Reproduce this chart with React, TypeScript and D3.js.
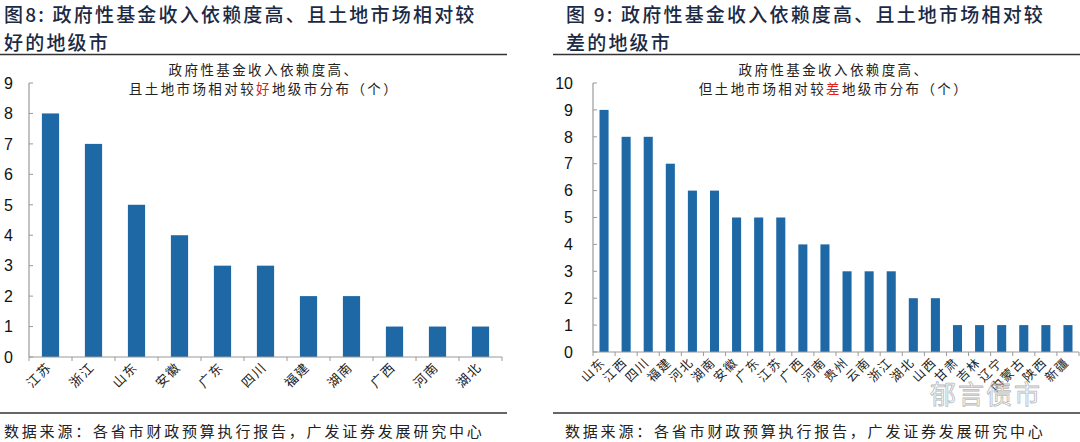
import React from 'react';
import * as d3 from 'd3';

// left panel: good land market cities
const goodProvinces = ['江苏', '浙江', '山东', '安徽', '广东', '四川', '福建', '湖南', '广西', '河南', '湖北'];
const goodCounts = [8, 7, 5, 4, 3, 3, 2, 2, 1, 1, 1];
const goodTicks = [0, 1, 2, 3, 4, 5, 6, 7, 8, 9];

// right panel: weak land market cities
const badProvinces = ['山东', '江西', '四川', '福建', '河北', '湖南', '安徽', '广东', '江苏', '广西', '河南',
  '贵州', '云南', '浙江', '湖北', '山西', '甘肃', '吉林', '辽宁', '内蒙古', '陕西', '新疆'];
const badCounts = [9, 8, 8, 7, 6, 6, 5, 5, 5, 4, 4, 3, 3, 3, 2, 2, 1, 1, 1, 1, 1, 1];
const badTicks = [0, 1, 2, 3, 4, 5, 6, 7, 8, 9, 10];

const BAR = '#1d68a5';
const AXIS = '#9a9a9a';
const INK = '#1b2a44';
const CJK = '"Noto Sans CJK SC", "Noto Sans", sans-serif';
const NUM = '"Liberation Sans", Arial, sans-serif';

type PanelProps = {
  x0: number; x1: number; y0: number; y1: number;
  cats: string[]; vals: number[]; ticks: number[];
  pad: number; labelGap: number; catFont: number;
};

function Panel({ x0, x1, y0, y1, cats, vals, ticks, pad, labelGap, catFont }: PanelProps) {
  const x = d3.scaleBand().domain(cats).range([x0, x1]).paddingInner(pad).paddingOuter(pad / 2);
  const y = d3.scaleLinear().domain([0, ticks[ticks.length - 1]]).range([y0, y1]);
  const step = x.step();
  const edges = d3.range(cats.length + 1).map(i => x0 + i * step);

  return (
    <g>
      {vals.map((v, i) => (
        <rect key={i} x={x(cats[i])} y={y(v)} width={x.bandwidth()} height={y0 - y(v)} fill={BAR} />
      ))}
      {/* y axis */}
      <line x1={x0} x2={x0} y1={y1} y2={y0} stroke={AXIS} strokeWidth={1.2} />
      {ticks.map(t => (
        <g key={t}>
          <line x1={x0} x2={x0 + 4} y1={y(t)} y2={y(t)} stroke={AXIS} />
          <text x={x0 - labelGap} y={y(t)} dy="0.36em" textAnchor="end"
            fontFamily={NUM} fontSize={16} fill="#111">{t}</text>
        </g>
      ))}
      {/* x axis */}
      <line x1={x0} x2={x1} y1={y0} y2={y0} stroke={AXIS} strokeWidth={1.2} />
      {edges.map((e, i) => (
        <line key={i} x1={e} x2={e} y1={y0} y2={y0 + 4} stroke={AXIS} />
      ))}
      {cats.map(c => (
        <text key={c} transform={`translate(${x(c)! + x.bandwidth() / 2 + 2},${y0 + 11}) rotate(-45)`}
          textAnchor="end" fontFamily={CJK} fontSize={catFont} letterSpacing={1.5} fill="#222">{c}</text>
      ))}
    </g>
  );
}

// two-line figure title, wrapped inside one text element
function Heading({ x, line1, line2 }: { x: number; line1: string; line2: string }) {
  return (
    <text fontFamily={CJK} fill={INK} fontSize={19} letterSpacing={2.2} fontWeight={500}>
      <tspan x={x} y={22}>{line1}</tspan>
      <tspan x={x} y={50}>{line2}</tspan>
    </text>
  );
}

function Inner({ cx, word, lead }: { cx: number; word: string; lead: string }) {
  return (
    <text fontFamily={CJK} fontSize={13.5} letterSpacing={2.4} fill="#222" textAnchor="middle">
      <tspan x={cx} y={75}>政府性基金收入依赖度高、</tspan>
      <tspan x={cx} y={94}>{lead}<tspan fill="#e0201b">{word}</tspan>地级市分布（个）</tspan>
    </text>
  );
}

export default function App() {
  return (
    <div style={{ position: 'absolute', left: 0, top: 0 }}>
      <svg width={1080} height={442} style={{ display: 'block', background: '#fff' }}>
        <Heading x={4} line1="图8:  政府性基金收入依赖度高、且土地市场相对较" line2="好的地级市" />
        <Heading x={566} line1="图 9:  政府性基金收入依赖度高、且土地市场相对较" line2="差的地级市" />

        <line x1={0} x2={507} y1={54.5} y2={54.5} stroke="#333" strokeWidth={1.5} />
        <line x1={553} x2={1080} y1={54.5} y2={54.5} stroke="#333" strokeWidth={1.5} />

        <Inner cx={264} lead="且土地市场相对较" word="好" />
        <Inner cx={834} lead="但土地市场相对较" word="差" />

        <Panel x0={29} x1={502} y0={357} y1={83} cats={goodProvinces} vals={goodCounts} ticks={goodTicks}
          pad={0.6} labelGap={16} catFont={13} />
        <Panel x0={593} x1={1079} y0={352} y1={83} cats={badProvinces} vals={badCounts} ticks={badTicks}
          pad={0.59} labelGap={20} catFont={12.5} />

        <text x={930} y={404} fontFamily={CJK} fontSize={26} fill="none" stroke="#b8b8b8" strokeWidth={0.8}
          letterSpacing={2}>郁言债市</text>

        <line x1={0} x2={507} y1={413} y2={413} stroke="#333" strokeWidth={1.5} />
        <line x1={553} x2={1080} y1={413} y2={413} stroke="#333" strokeWidth={1.5} />

        <g fontFamily={CJK} fontSize={15} letterSpacing={2.8} fill="#222">
          <text x={4} y={437}>数据来源：各省市财政预算执行报告，广发证券发展研究中心</text>
          <text x={565} y={437}>数据来源：各省市财政预算执行报告，广发证券发展研究中心</text>
        </g>
      </svg>
    </div>
  );
}
